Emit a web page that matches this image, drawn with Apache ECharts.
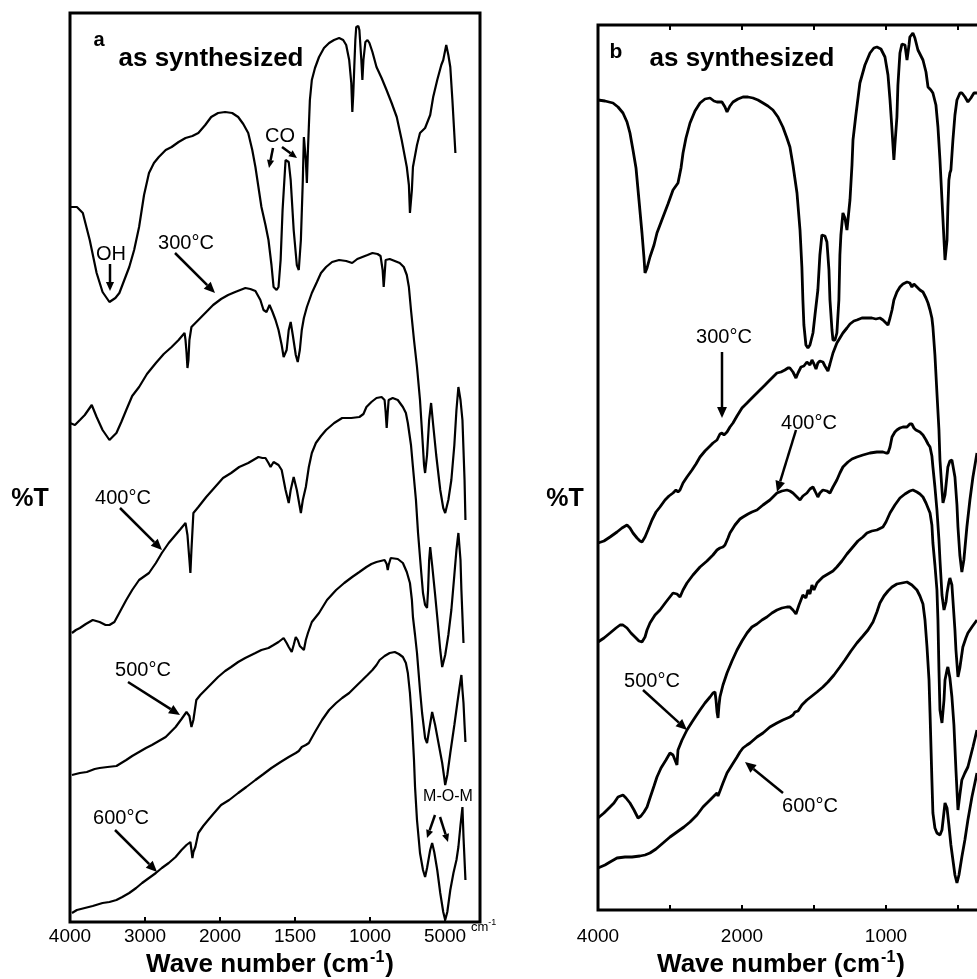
<!DOCTYPE html>
<html>
<head>
<meta charset="utf-8" />
<title>FTIR spectra</title>
<script src="https://cdn.jsdelivr.net/npm/echarts@6/dist/echarts.min.js"></script>
<style>
    html, body { margin: 0; padding: 0; background: #fff; }
    #chart { width: 977px; height: 979px; }
</style>
</head>
<body>
<div id="chart"></div>
<script>
// ticks of the split wavenumber axis (scale changes at 2000 cm-1)
const tickWaves = [4000, 3000, 2000, 1500, 1000, 500];
const tickLabelsA = ['4000', '3000', '2000', '1500', '1000', '5000'];
const tickLabelsB = ['4000', '', '2000', '', '1000', ''];

// panel a : [wavenumber cm-1, %T offset (arbitrary)]
const aSynth = [[4000,715],[3908,715],[3829,709],[3737,682],[3645,649],[3566,630],[3474,620],[3395,624],[3342,629],[3276,642],[3210,655],[3145,672],[3079,695],[3013,727],[2947,749],[2881,759],[2816,765],[2724,772],[2645,775],[2552,780],[2460,784],[2368,786],[2289,789],[2197,797],[2118,805],[2026,809],[1966,810],[1919,809],[1879,805],[1845,798],[1812,789],[1785,772],[1764,755],[1744,735],[1724,715],[1697,697],[1677,682],[1657,657],[1643,635],[1623,632],[1610,635],[1596,662],[1583,712],[1563,762],[1542,760],[1529,742],[1509,692],[1488,657],[1475,652],[1461,682],[1448,742],[1441,785],[1434,787],[1428,762],[1421,739],[1414,772],[1401,822],[1388,842],[1367,854],[1340,865],[1307,874],[1273,879],[1240,882],[1206,884],[1179,882],[1159,877],[1139,862],[1125,839],[1118,810],[1112,827],[1105,855],[1098,882],[1092,895],[1078,896],[1071,892],[1058,862],[1051,842],[1044,862],[1031,880],[1017,882],[1004,879],[984,870],[957,855],[923,844],[890,832],[856,819],[822,805],[789,782],[755,755],[741,737],[734,709],[721,732],[714,755],[687,777],[667,789],[633,794],[620,795],[599,807],[579,825],[552,842],[525,857],[512,862],[492,877],[478,867],[465,855],[451,822],[431,769]];
const a300 = [[4000,499],[3934,497],[3868,502],[3803,507],[3710,517],[3645,505],[3566,492],[3474,482],[3381,489],[3316,500],[3250,512],[3171,526],[3079,535],[2974,548],[2855,559],[2750,568],[2645,575],[2552,582],[2473,589],[2460,582],[2447,570],[2434,554],[2421,562],[2408,582],[2381,595],[2289,602],[2197,609],[2092,617],[1993,623],[1946,627],[1899,630],[1831,634],[1798,633],[1764,631],[1731,622],[1710,612],[1690,610],[1670,617],[1650,610],[1630,602],[1610,592],[1589,577],[1576,565],[1556,572],[1542,592],[1529,600],[1515,587],[1495,567],[1482,560],[1468,572],[1455,592],[1441,604],[1421,615],[1388,629],[1354,640],[1327,649],[1293,655],[1253,660],[1206,662],[1159,661],[1119,659],[1085,663],[1051,665],[1017,667],[984,669],[950,668],[930,666],[916,652],[909,635],[903,647],[896,662],[869,663],[835,661],[802,659],[775,655],[755,647],[741,635],[727,612],[707,582],[687,555],[667,522],[653,489],[640,457],[633,449],[620,467],[606,502],[593,519],[579,497],[559,467],[532,432],[512,414],[499,409],[478,422],[458,442],[438,477],[424,512],[411,535],[397,522],[384,502],[370,442],[364,402]];
const a400 = [[3974,289],[3921,292],[3868,294],[3789,298],[3697,302],[3605,300],[3526,297],[3474,297],[3408,300],[3329,311],[3250,322],[3171,332],[3079,342],[2947,349],[2855,359],[2776,369],[2684,379],[2605,386],[2526,393],[2460,399],[2434,387],[2408,362],[2395,349],[2381,372],[2355,409],[2289,415],[2184,425],[2066,435],[1980,444],[1926,449],[1872,455],[1812,459],[1778,462],[1744,465],[1717,464],[1697,464],[1677,459],[1663,455],[1643,460],[1630,462],[1610,457],[1589,452],[1563,432],[1542,419],[1529,432],[1509,445],[1488,432],[1461,409],[1448,422],[1428,435],[1408,455],[1388,469],[1361,479],[1327,486],[1293,492],[1239,499],[1186,504],[1125,504],[1071,505],[1044,508],[1024,515],[991,520],[957,524],[923,525],[903,522],[896,510],[889,494],[882,510],[876,522],[849,524],[815,522],[781,515],[761,509],[748,499],[727,477],[714,455],[694,422],[680,389],[660,352],[647,329],[633,317],[620,314],[613,332],[606,362],[599,375],[586,357],[566,327],[552,305],[532,272],[519,255],[499,267],[478,287],[458,312],[438,347],[424,372],[411,389],[397,362],[391,332],[377,279]];
const a500 = [[3974,147],[3868,149],[3776,150],[3671,153],[3605,154],[3500,155],[3381,156],[3316,159],[3250,162],[3171,166],[3079,170],[2987,174],[2908,177],[2816,181],[2724,185],[2658,190],[2592,195],[2513,203],[2447,210],[2408,206],[2381,195],[2355,202],[2316,222],[2263,227],[2197,232],[2105,239],[2026,245],[1966,251],[1926,255],[1879,260],[1832,264],[1764,269],[1724,272],[1677,274],[1643,277],[1610,280],[1576,284],[1556,279],[1542,275],[1522,270],[1509,277],[1495,285],[1482,282],[1468,276],[1441,272],[1428,282],[1414,289],[1388,300],[1340,309],[1287,322],[1226,332],[1172,339],[1119,345],[1071,350],[1024,355],[991,358],[957,360],[903,362],[889,358],[882,352],[876,357],[862,364],[849,364],[815,363],[781,359],[755,350],[734,339],[721,322],[714,305],[700,287],[687,269],[667,232],[653,209],[633,184],[620,179],[606,192],[586,210],[566,197],[545,180],[519,159],[505,144],[499,137],[485,147],[465,169],[438,197],[418,219],[404,234],[391,247],[384,232],[377,219],[370,197],[364,180]];
const a600 = [[3974,9],[3908,12],[3803,14],[3697,16],[3566,19],[3474,20],[3381,22],[3303,25],[3210,29],[3118,34],[3039,39],[2947,44],[2855,49],[2776,54],[2684,59],[2592,65],[2513,72],[2447,77],[2395,80],[2381,72],[2368,64],[2355,70],[2329,75],[2289,89],[2224,96],[2158,102],[2079,109],[1993,117],[1939,122],[1879,129],[1825,135],[1764,142],[1710,148],[1657,154],[1596,160],[1542,165],[1495,169],[1475,171],[1455,175],[1428,177],[1408,179],[1367,190],[1320,202],[1273,212],[1226,219],[1186,224],[1139,229],[1092,236],[1051,242],[1017,247],[984,252],[957,257],[936,262],[903,266],[869,269],[835,270],[808,268],[781,265],[761,259],[748,249],[734,229],[721,202],[707,162],[700,135],[687,102],[667,69],[647,52],[633,45],[620,54],[599,72],[586,79],[572,70],[552,52],[532,29],[512,10],[499,2],[485,10],[465,32],[444,49],[424,62],[411,75],[397,97],[384,115],[377,85],[364,42]];

// panel b
const bSynth = [[4000,810],[3903,809],[3792,807],[3722,803],[3653,797],[3597,788],[3556,777],[3514,760],[3472,742],[3431,710],[3389,677],[3361,652],[3347,637],[3319,642],[3278,653],[3222,665],[3181,677],[3139,685],[3097,693],[3028,706],[2958,720],[2889,727],[2847,742],[2819,757],[2778,772],[2722,787],[2653,799],[2583,807],[2514,811],[2444,812],[2389,809],[2347,808],[2278,808],[2236,803],[2208,798],[2167,804],[2125,808],[2056,811],[1993,813],[1958,813],[1924,812],[1889,810],[1854,807],[1820,804],[1785,800],[1750,793],[1716,783],[1688,772],[1667,763],[1646,745],[1618,717],[1597,680],[1584,643],[1577,610],[1570,585],[1556,565],[1542,562],[1528,565],[1507,577],[1493,595],[1473,620],[1459,655],[1445,675],[1438,677],[1424,674],[1410,668],[1396,640],[1389,610],[1375,580],[1368,570],[1354,570],[1341,577],[1327,610],[1320,655],[1313,675],[1299,697],[1285,692],[1271,680],[1257,700],[1250,710],[1236,745],[1229,770],[1209,795],[1181,827],[1146,845],[1111,857],[1084,862],[1063,863],[1035,861],[1007,853],[986,835],[972,810],[958,780],[945,750],[938,765],[924,793],[917,825],[903,857],[889,866],[882,867],[868,865],[854,850],[840,865],[834,873],[813,877],[799,872],[778,860],[764,856],[743,850],[722,838],[708,823],[688,820],[674,817],[653,805],[639,783],[625,750],[611,710],[597,670],[590,650],[576,670],[570,703],[563,730],[556,737],[549,740],[535,770],[521,795],[507,810],[486,817],[472,817],[451,813],[431,808],[410,812],[389,817],[368,817]];
const b300 = [[4000,367],[3917,369],[3833,373],[3736,378],[3667,382],[3597,385],[3556,382],[3514,377],[3458,372],[3417,369],[3389,368],[3347,373],[3306,380],[3250,390],[3194,398],[3139,403],[3069,410],[3014,414],[2958,417],[2917,420],[2889,418],[2861,420],[2819,427],[2764,433],[2694,440],[2639,446],[2583,453],[2514,459],[2444,464],[2403,467],[2347,470],[2306,476],[2278,477],[2250,475],[2208,478],[2167,483],[2125,487],[2069,494],[2000,502],[1965,507],[1931,512],[1903,516],[1875,520],[1840,525],[1806,530],[1778,534],[1757,537],[1729,538],[1702,540],[1681,542],[1667,542],[1646,538],[1625,532],[1611,537],[1590,543],[1570,544],[1549,548],[1528,545],[1514,550],[1500,546],[1486,541],[1473,547],[1459,549],[1438,548],[1424,544],[1403,539],[1389,546],[1368,557],[1341,567],[1320,572],[1299,577],[1271,582],[1250,586],[1223,589],[1202,590],[1167,592],[1132,592],[1098,592],[1070,591],[1042,592],[1021,590],[1000,587],[986,585],[972,592],[958,600],[945,610],[924,618],[903,623],[882,626],[868,627],[854,628],[834,627],[820,623],[806,626],[785,623],[764,620],[743,618],[722,612],[708,607],[694,600],[681,592],[674,583],[660,555],[646,517],[632,480],[625,450],[611,420],[604,407],[590,415],[570,443],[556,449],[542,450],[521,433],[507,405],[500,383],[487,355],[473,338],[459,350],[438,383],[417,410],[396,433],[368,457]];
const b400 = [[4000,268],[3917,272],[3833,277],[3750,282],[3694,285],[3653,285],[3597,282],[3542,277],[3472,272],[3431,269],[3389,268],[3347,273],[3319,280],[3278,287],[3208,295],[3139,300],[3056,308],[2958,317],[2903,316],[2861,313],[2819,320],[2764,327],[2681,335],[2583,343],[2486,349],[2403,355],[2347,360],[2306,362],[2264,363],[2236,365],[2194,372],[2167,377],[2097,385],[2028,391],[1993,393],[1958,396],[1931,398],[1896,400],[1854,405],[1806,410],[1778,414],[1757,417],[1722,419],[1688,420],[1667,419],[1646,417],[1618,413],[1597,410],[1577,414],[1549,417],[1528,421],[1507,423],[1493,419],[1473,413],[1459,417],[1438,420],[1410,419],[1389,417],[1368,423],[1341,430],[1320,437],[1299,443],[1264,448],[1236,451],[1202,453],[1160,455],[1111,457],[1063,458],[1021,458],[1000,457],[986,457],[972,463],[958,473],[938,478],[924,480],[903,482],[882,483],[854,483],[834,486],[820,486],[806,482],[792,480],[778,479],[764,478],[743,475],[722,470],[708,466],[694,463],[681,454],[674,443],[660,423],[646,400],[632,370],[625,350],[611,315],[597,300],[583,308],[576,317],[563,328],[556,332],[542,325],[535,310],[521,280],[514,260],[500,233],[487,242],[466,263],[445,272],[431,277],[403,283],[368,290]];
const b500 = [[4000,92],[3917,97],[3833,103],[3778,107],[3722,113],[3653,115],[3611,112],[3556,107],[3500,100],[3444,92],[3403,94],[3361,98],[3319,103],[3278,112],[3222,124],[3181,133],[3125,142],[3056,150],[3000,157],[2958,155],[2931,153],[2903,145],[2889,160],[2833,170],[2764,180],[2694,188],[2639,194],[2583,200],[2514,207],[2444,213],[2403,217],[2375,218],[2361,210],[2347,198],[2333,192],[2319,205],[2306,213],[2264,225],[2208,237],[2139,249],[2069,260],[2000,269],[1965,277],[1931,283],[1896,286],[1861,290],[1827,293],[1792,297],[1757,300],[1722,302],[1688,303],[1667,303],[1646,300],[1625,296],[1604,305],[1577,315],[1556,312],[1542,320],[1528,316],[1514,325],[1500,320],[1479,327],[1459,330],[1438,333],[1403,336],[1368,339],[1341,343],[1306,349],[1271,356],[1230,363],[1195,369],[1160,373],[1132,377],[1098,379],[1063,380],[1021,383],[1000,388],[972,397],[938,405],[903,412],[868,416],[834,419],[813,420],[785,418],[764,416],[743,413],[722,407],[708,402],[694,397],[681,385],[674,367],[660,345],[646,320],[639,290],[632,240],[625,200],[611,187],[597,210],[590,230],[576,240],[570,243],[556,232],[542,213],[528,185],[514,140],[500,100],[487,115],[473,130],[452,137],[431,143],[396,163],[368,180]];
const b600 = [[4000,42],[3903,45],[3833,48],[3736,52],[3625,53],[3528,53],[3417,54],[3347,55],[3278,57],[3194,61],[3097,67],[3000,73],[2903,78],[2806,83],[2722,88],[2625,95],[2542,103],[2444,110],[2375,115],[2347,117],[2333,114],[2306,119],[2264,127],[2208,137],[2139,145],[2069,153],[2028,158],[1993,162],[1965,165],[1944,167],[1896,173],[1854,177],[1806,183],[1757,187],[1716,190],[1667,193],[1646,195],[1632,198],[1611,199],[1584,205],[1549,210],[1514,214],[1479,218],[1438,223],[1403,228],[1361,235],[1320,243],[1285,250],[1243,259],[1202,267],[1160,274],[1125,280],[1090,288],[1063,298],[1042,307],[1014,314],[986,319],[958,323],[924,326],[889,327],[854,328],[820,325],[785,320],[764,314],[743,306],[729,290],[715,263],[701,230],[694,197],[681,130],[674,97],[660,82],[646,77],[625,75],[611,80],[597,98],[590,107],[576,102],[563,85],[549,65],[535,50],[521,35],[507,27],[493,35],[473,53],[452,70],[431,90],[403,113],[368,137]];

// split scale: 4000-2000 compressed 2x relative to 2000-400
function toAxis(w) {
    return w >= 2000 ? (4000 - w) / 2 : 3000 - w;
}

const FONT = '"Liberation Sans", Arial, Helvetica, sans-serif';

function tickFormatter(labels) {
    return function (v) {
        const i = Math.round(v / 500);
        if (Math.abs(v - i * 500) > 1e-6 || i >= labels.length) return '';
        return labels[i];
    };
}

function spectrum(data, idx, width) {
    return {
        type: 'line',
        xAxisIndex: idx,
        yAxisIndex: idx,
        data: data.map(p => [toAxis(p[0]), p[1]]),
        showSymbol: false,
        symbol: 'none',
        lineStyle: { color: '#000', width: width },
        silent: true
    };
}

function arrow(x1, y1, x2, y2, head) {
    const L = head || 11, W = (head || 11) * 0.45;
    const ang = Math.atan2(y2 - y1, x2 - x1);
    const bx = x2 - L * Math.cos(ang), by = y2 - L * Math.sin(ang);
    const px = -Math.sin(ang) * W, py = Math.cos(ang) * W;
    return [
        { type: 'line', shape: { x1: x1, y1: y1, x2: bx, y2: by }, style: { stroke: '#000', lineWidth: 2.5 } },
        { type: 'polygon', shape: { points: [[x2, y2], [bx + px, by + py], [bx - px, by - py]] }, style: { fill: '#000' } }
    ];
}

function label(x, y, text, size, bold) {
    return {
        type: 'text', x: x, y: y,
        style: {
            text: text, fill: '#000', fontSize: size, fontWeight: bold ? 'bold' : 'normal',
            fontFamily: FONT, align: 'center', verticalAlign: 'middle'
        }
    };
}

function axisName(x, y) {
    return {
        type: 'text', x: x, y: y,
        style: {
            text: '{n|Wave number (cm}{s|-1}{n|)}', fill: '#000', align: 'center', verticalAlign: 'middle',
            rich: {
                n: { fontSize: 26, fontWeight: 'bold', fontFamily: FONT, lineHeight: 28, verticalAlign: 'bottom' },
                s: { fontSize: 16, fontWeight: 'bold', fontFamily: FONT, lineHeight: 28, verticalAlign: 'top', padding: [0, 1, 12, 1] }
            }
        }
    };
}

let graphics = [
    label(99, 40, 'a', 20, true),
    label(211, 59, 'as synthesized', 26, true),
    label(616, 52, 'b', 21, true),
    label(742, 59, 'as synthesized', 26, true),
    label(30, 499, '%T', 25, true),
    label(565, 499, '%T', 25, true),
    axisName(270, 964),
    axisName(781, 964),
    {
        type: 'text', x: 471, y: 926,
        style: {
            text: '{n|cm}{s|-1}', fill: '#000', align: 'left', verticalAlign: 'middle',
            rich: {
                n: { fontSize: 13, fontFamily: FONT, lineHeight: 16, verticalAlign: 'bottom' },
                s: { fontSize: 9, fontFamily: FONT, lineHeight: 16, verticalAlign: 'top' }
            }
        }
    },
    // panel a notes
    label(280, 136, 'CO', 20),
    label(111, 254, 'OH', 20),
    label(186, 243, '300°C', 20),
    label(123, 498, '400°C', 20),
    label(143, 670, '500°C', 20),
    label(121, 818, '600°C', 20),
    label(448, 797, 'M-O-M', 16),
    // panel b notes
    label(724, 337, '300°C', 20),
    label(809, 423, '400°C', 20),
    label(652, 681, '500°C', 20),
    label(810, 806, '600°C', 20)
];
graphics = graphics.concat(
    arrow(273, 148, 269, 168, 8),
    arrow(282, 147, 297, 158, 8),
    arrow(110, 264, 110, 291, 9),
    arrow(175, 253, 215, 293),
    arrow(120, 508, 162, 550),
    arrow(128, 682, 180, 715),
    arrow(115, 830, 157, 872),
    arrow(435, 815, 427, 838, 8),
    arrow(440, 817, 448, 842, 8),
    arrow(722, 352, 722, 418),
    arrow(796, 430, 777, 492),
    arrow(643, 690, 687, 730),
    arrow(783, 793, 745, 762)
);

const chart = echarts.init(document.getElementById('chart'), null, { renderer: 'canvas' });

const tickStyle = { show: true, inside: true, length: 5, lineStyle: { color: '#000', width: 2 } };
const labelStyle = { fontSize: 19, color: '#000', fontFamily: FONT };

chart.setOption({
    animation: false,
    backgroundColor: '#fff',
    grid: [
        { left: 70, top: 13, width: 410, height: 909, show: true, borderColor: '#000', borderWidth: 3,
          backgroundColor: 'transparent', outerBoundsMode: 'none', containLabel: false },
        { left: 598, top: 25, width: 420, height: 885, show: true, borderColor: '#000', borderWidth: 3,
          backgroundColor: 'transparent', outerBoundsMode: 'none', containLabel: false }
    ],
    xAxis: [
        {
            type: 'value', gridIndex: 0, min: 0, max: 2733, interval: 500,
            axisLine: { show: false }, splitLine: { show: false },
            axisTick: tickStyle,
            axisLabel: Object.assign({ margin: 5, formatter: tickFormatter(tickLabelsA) }, labelStyle)
        },
        {
            type: 'value', gridIndex: 1, min: 0, max: 2917, interval: 500,
            axisLine: { show: false }, splitLine: { show: false },
            axisTick: tickStyle,
            axisLabel: Object.assign({ margin: 17, formatter: tickFormatter(tickLabelsB) }, labelStyle)
        },
        {
            type: 'value', gridIndex: 1, position: 'top', min: 0, max: 2917, interval: 500,
            axisLine: { show: false }, splitLine: { show: false },
            axisTick: tickStyle, axisLabel: { show: false }
        }
    ],
    yAxis: [
        { type: 'value', gridIndex: 0, min: 0, max: 909, show: false },
        { type: 'value', gridIndex: 1, min: 0, max: 885, show: false }
    ],
    series: [
        spectrum(aSynth, 0, 2.2),
        spectrum(a300, 0, 2.2),
        spectrum(a400, 0, 2.2),
        spectrum(a500, 0, 2.2),
        spectrum(a600, 0, 2.2),
        spectrum(bSynth, 1, 2.8),
        spectrum(b300, 1, 2.8),
        spectrum(b400, 1, 2.8),
        spectrum(b500, 1, 2.8),
        spectrum(b600, 1, 2.8)
    ],
    graphic: graphics
});
</script>
</body>
</html>
